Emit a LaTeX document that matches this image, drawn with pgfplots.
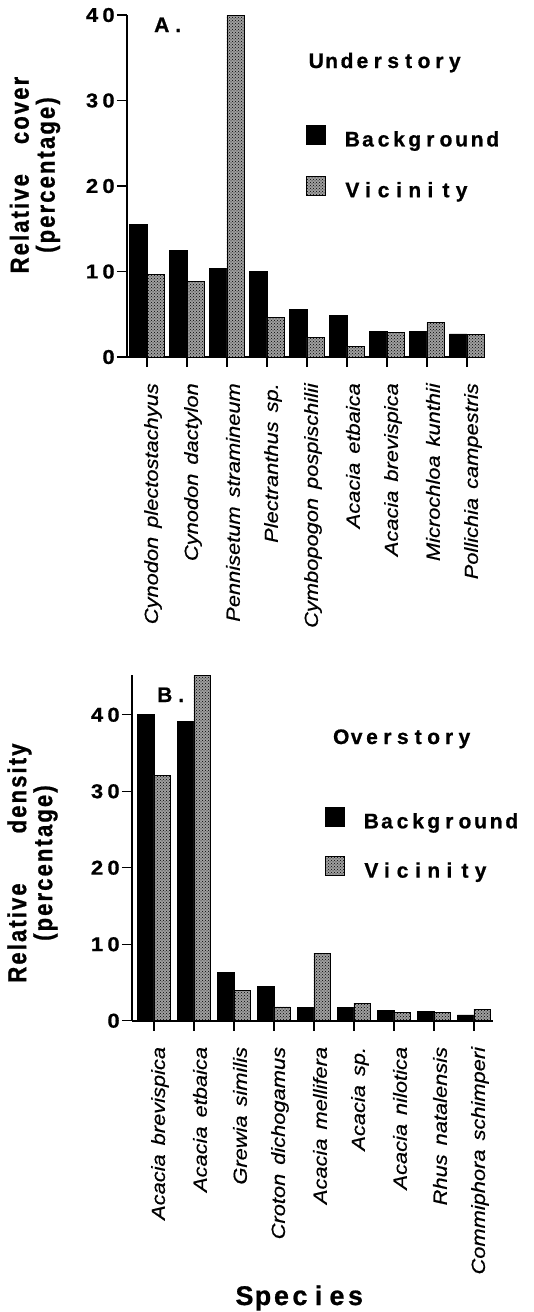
\documentclass[border=0pt]{standalone}
\usepackage{fontspec}
\setmainfont{Liberation Sans}
\newfontfamily\hb{Liberation Sans}[FakeStretch=1.0, FakeBold=0.8]
\newfontfamily\hbt{Liberation Sans}[FakeStretch=1.1, FakeBold=0.8]
\newfontfamily\hyl{Liberation Sans}[FakeStretch=0.85, LetterSpace=8, FakeBold=0.8]
\newfontfamily\hit{Liberation Sans}[FakeStretch=1.15, FakeBold=0.5]
\usepackage{pgfplots}
\pgfplotsset{compat=1.18}
\usepackage{pgfplotstable}
\usetikzlibrary{patterns}
\ExplSyntaxOn
\NewDocumentCommand\fp{mm}{\tl_map_inline:nn{#2}{\makebox[#1]{##1}}}
\ExplSyntaxOff
\newcommand\wg{\hspace{9pt}}

\pgfplotstableread{
x bg vic
0 15.5 9.7
1 12.5 8.8
2 10.4 40
3 10.0 4.6
4 5.6 2.3
5 4.9 1.25
6 3.0 2.9
7 3.0 4.05
8 2.7 2.6
}\understory

\pgfplotstableread{
x bg vic
0 40.1 32.1
1 39.1 45.2
2 6.3 4.0
3 4.45 1.8
4 1.75 8.8
5 1.75 2.3
6 1.4 1.05
7 1.2 1.05
8 0.75 1.5
}\overstory

\pgfplotsset{
  mybars/.style={
    ybar=0pt, scale only axis,
    axis lines=left, axis line style={-, line width=1.6pt},
    tick style={line width=1.2pt, black},
    major tick length=10pt, tick align=outside,
    xtick={0,...,8}, ytick={0,10,20,30,40},
    yticklabels={\fp{16.5pt}{0},\fp{16.5pt}{10},\fp{16.5pt}{20},\fp{16.5pt}{30},\fp{16.5pt}{40}},
    yticklabel style={font=\hbt\bfseries\fontsize{20}{20}\selectfont, inner sep=0pt, anchor=east},
    xticklabel style={font=\hit\itshape\fontsize{19}{19}\selectfont, inner sep=0pt, xshift=6pt, yshift=-16pt, rotate=90, anchor=east},
    ylabel style={font=\hyl\bfseries\fontsize{26}{26}\selectfont, align=center, inner sep=0pt, anchor=center},
    ymin=0,
    legend cell align=left,
    legend image code/.code={\draw[##1,draw=black,line width=0.6pt] (0pt,2pt) rectangle (19pt,21pt);},
    legend style={anchor=north west, draw=none, fill=none, inner sep=0pt, outer sep=0pt,
      column sep=0pt, nodes={inner sep=0pt, anchor=base west},
      font=\hb\bfseries\fontsize{21}{21}\selectfont,
      /tikz/every odd column/.append style={column sep=19pt}},
  },
  bgbar/.style={fill=black, draw=black, line width=0.6pt},
  vicbar/.style={fill=gray!75, draw=black, line width=0.6pt, postaction={pattern=crosshatch dots, pattern color=black}},
}

\begin{document}
\begin{tikzpicture}
\path[use as bounding box] (0pt,0pt) rectangle (533pt,-1312pt);

\begin{axis}[mybars, at={(127pt,-357pt)}, anchor=south west,
  width=358pt, height=342pt, bar width=17.5pt,
  xmin=-0.5, xmax=8.45, ymax=40,
  xticklabels={Cynodon\wg plectostachyus, Cynodon\wg dactylon, Pennisetum\wg stramineum,
    Plectranthus\wg sp., Cymbopogon\wg pospischilii, Acacia\wg etbaica, Acacia\wg brevispica,
    Microchloa\wg kunthii, Pollichia\wg campestris},
  ylabel={Relative\hspace{30pt}cover\\(percentage)},
  ylabel style={at={(axis description cs:-0.257,0.532)}},
  legend style={at={(axis description cs:0.5,0.678)}, row sep=28pt},
]
\addplot[bgbar] table[x=x,y=bg]{\understory};
\addlegendentry{\fp{15.6pt}{Background}}
\addplot[vicbar] table[x=x,y=vic]{\understory};
\addlegendentry{\fp{15.6pt}{Vicinity}}
\end{axis}

\begin{axis}[mybars, at={(132pt,-1020.7pt)}, anchor=south west,
  width=361pt, height=345.7pt, bar width=16.5pt,
  xmin=-0.55, xmax=8.475, ymax=45.2,
  xticklabels={Acacia\wg brevispica, Acacia\wg etbaica, Grewia\wg similis,
    Croton\wg dichogamus, Acacia\wg mellifera, Acacia\wg sp., Acacia\wg nilotica,
    Rhus\wg natalensis, Commiphora\wg schimperi},
  ylabel={Relative\hspace{50pt}density\\(percentage)},
  ylabel style={at={(axis description cs:-0.2756,0.456)}},
  legend style={at={(axis description cs:0.5346,0.6182)}, row sep=26.5pt},
]
\addplot[bgbar] table[x=x,y=bg]{\overstory};
\addlegendentry{\fp{15.6pt}{Background}}
\addplot[vicbar] table[x=x,y=vic]{\overstory};
\addlegendentry{\fp{15.6pt}{Vicinity}}
\end{axis}

\node[anchor=base west, font=\hb\bfseries\fontsize{21}{21}\selectfont] at (150pt,-32pt) {\fp{16.5pt}{A.}};
\node[anchor=base west, font=\hb\bfseries\fontsize{21}{21}\selectfont] at (153pt,-702pt) {\fp{16.5pt}{B.}};
\node[anchor=base west, font=\hb\bfseries\fontsize{21}{21}\selectfont] at (305pt,-68pt) {\fp{15.4pt}{Understory}};
\node[anchor=base west, font=\hb\bfseries\fontsize{21}{21}\selectfont] at (330pt,-744pt) {\fp{15.4pt}{Overstory}};
\node[anchor=base, font=\hb\bfseries\fontsize{27}{27}\selectfont] at (300pt,-1305pt) {\fp{18.5pt}{Species}};
\end{tikzpicture}
\end{document}
